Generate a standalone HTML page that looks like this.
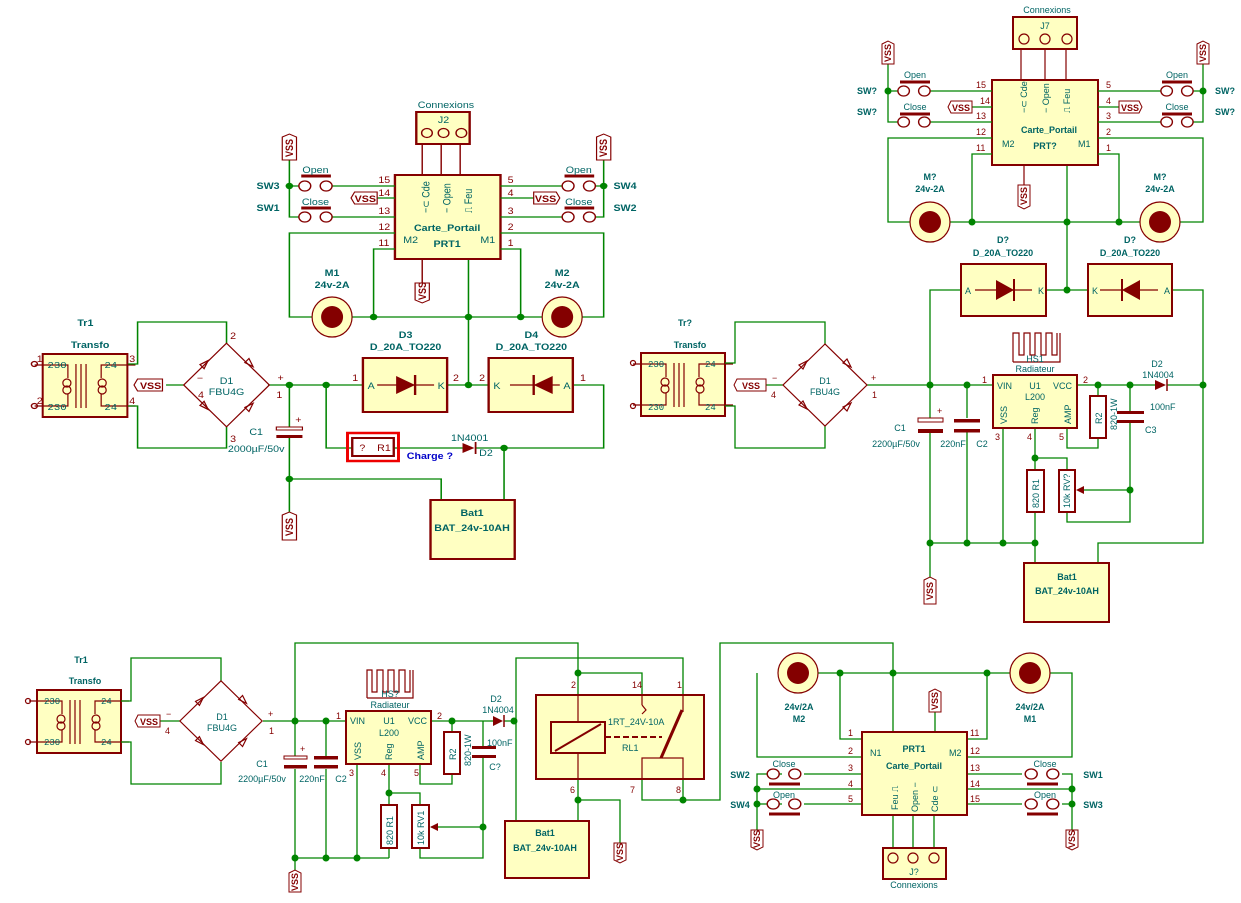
<!DOCTYPE html>
<html><head><meta charset="utf-8"><style>
html,body{margin:0;padding:0;background:#fff}
svg{display:block}
.w{stroke:#008400;stroke-width:1.3;fill:none}
.p{stroke:#840000;stroke-width:1.2;fill:none}
.b{stroke:#840000;stroke-width:2;fill:#ffffc2}
.j{fill:#008400}
text{font-family:"Liberation Sans",sans-serif;fill:#006464;font-size:9px}
.bd{font-weight:bold}
.r{fill:#840000}
.m{font-family:"Liberation Mono",monospace}
</style></head><body>
<svg width="1241" height="903" viewBox="0 0 1241 903" xmlns="http://www.w3.org/2000/svg">
<defs>
<g id="mot"><circle r="20" fill="#ffffc2" stroke="#840000" stroke-width="1.2"/><circle r="11" fill="#840000"/></g>
<g id="sw"><circle cx="-9" r="5" fill="#fff" stroke="#840000" stroke-width="1.2"/><circle cx="9" r="5" fill="#fff" stroke="#840000" stroke-width="1.2"/></g>
<g id="br"><path class="p" d="M0,-41 L-42,0 L0,41 L42,0 Z"/>
<path class="p" d="M-26,-20 l8,-4 l-4,8 z M18,-22 l8,4 l-4,-8 z M-26,20 l8,4 l-4,-8 z M18,22 l8,-4 l-4,8 z"/></g>
<g id="tr"><rect x="0" y="0" width="84" height="63" class="b"/>
<path class="p" d="M33,10 V54 M38,10 V54 M43,10 V54 M-8,11 H25 V24 M-8,52 H25 V40 M92,11 H58 V24 M92,52 H58 V40"/>
<circle cx="24" cy="29" r="4" class="p"/><circle cx="24" cy="36" r="4" class="p"/><circle cx="59" cy="29" r="4" class="p"/><circle cx="59" cy="36" r="4" class="p"/></g>
</defs>

<!-- ================= TOP LEFT ================= -->
<g transform="scale(1.186,1)">
<use href="#tr" transform="translate(36,354) scale(0.85,1)"/>
<circle cx="29" cy="364" r="2.5" class="p"/><circle cx="29" cy="406" r="2.5" class="p"/>
<text x="40" y="368" class="m">230</text><text x="40" y="410" class="m">230</text><text x="88" y="368" class="m">24</text><text x="88" y="410" class="m">24</text>
<text x="31" y="362" class="r">1</text><text x="31" y="404" class="r">2</text><text x="109" y="362" class="r">3</text><text x="109" y="404" class="r">4</text>
<text x="72" y="326" class="bd" text-anchor="middle">Tr1</text><text x="76" y="348" class="bd" text-anchor="middle">Transfo</text>
<path class="w" d="M108,364 H116 V322 H191 V343 M108,406 H116 V448 H191 V427 M140,385 H155 M226,385 H306 M377,385 H412 M483,385 H509 V448 H401 M275,385 V448 H297 M244,385 V428 M244,438 V515 M244,479 H372 V500 M425,448 V500 M395,259 V385 M332,448 H390"/>
<use href="#br" transform="translate(191,385) scale(0.86,1.02)"/>
<text x="191" y="384" text-anchor="middle">D1</text><text x="191" y="395" text-anchor="middle" font-size="8">FBU4G</text>
<text x="234" y="381" class="r" font-size="14">+</text><text x="233" y="398" class="r" font-size="13">1</text>
<text x="166" y="381" class="r" font-size="12">−</text><text x="167" y="398" class="r" font-size="13">4</text>
<text x="194" y="339" class="r" font-size="11">2</text><text x="194" y="442" class="r" font-size="11">3</text>
<path d="M116,379 H137 V391 H116 l-3,-6 z" fill="#fff" stroke="#840000"/><text x="118" y="389" class="r bd" font-size="8">VSS</text>
<circle cx="244" cy="385" r="3.2" class="j"/><circle cx="275" cy="385" r="3.2" class="j"/><circle cx="395" cy="385" r="3.2" class="j"/><circle cx="425" cy="448" r="3.2" class="j"/><circle cx="244" cy="479" r="3.2" class="j"/>
<rect x="233" y="427" width="22" height="3" fill="#fff" stroke="#840000"/><rect x="233" y="435" width="22" height="3" class="r"/><text x="249" y="423" class="r">+</text>
<text x="216" y="435" text-anchor="middle">C1</text><text x="216" y="452" text-anchor="middle">2000µF/50v</text>
<rect x="306" y="358" width="71" height="54" class="b"/><rect x="412" y="358" width="71" height="54" class="b"/>
<path class="p" d="M318,385 H366 M430,385 H472"/><path d="M334,376 L334,394 L350,385 Z M466,376 L466,394 L450,385 Z" class="r"/><path d="M350,375 V395 M450,375 V395" stroke="#840000" stroke-width="2"/>
<text x="310" y="389" font-size="8">A</text><text x="369" y="389" font-size="8">K</text><text x="416" y="389" font-size="8">K</text><text x="475" y="389" font-size="8">A</text>
<text x="297" y="381" class="r">1</text><text x="382" y="381" class="r">2</text><text x="404" y="381" class="r">2</text><text x="489" y="381" class="r">1</text>
<text x="342" y="338" class="bd" text-anchor="middle">D3</text><text x="342" y="350" class="bd" text-anchor="middle">D_20A_TO220</text>
<text x="448" y="338" class="bd" text-anchor="middle">D4</text><text x="448" y="350" class="bd" text-anchor="middle">D_20A_TO220</text>
<rect x="293" y="433" width="43" height="28" fill="none" stroke="#e00" stroke-width="2.5"/>
<rect x="297" y="438" width="35" height="18" fill="#fff" stroke="#840000" stroke-width="2"/><text x="303" y="451" class="r">?</text><text x="318" y="451" class="r">R1</text>
<text x="343" y="459" class="bd" style="fill:#0000c8">Charge ?</text>
<path d="M390,443 V453 L400,448 Z" class="r"/><path d="M401,442 V454" stroke="#840000" stroke-width="1.5"/>
<text x="396" y="441" text-anchor="middle">1N4001</text><text x="404" y="456">D2</text>
<rect x="363" y="500" width="71" height="59" class="b"/>
<text x="398" y="516" class="bd" text-anchor="middle">Bat1</text><text x="398" y="531" class="bd" text-anchor="middle" font-size="8">BAT_24v-10AH</text>
<path d="M238,515 l6,-3 l6,3 V540 H238 Z" fill="#fff" stroke="#840000"/><text transform="translate(247,536) rotate(-90)" class="r bd" font-size="8">VSS</text>
<!-- PRT1 -->
<rect x="333" y="175" width="89" height="84" class="b"/>
<rect x="351" y="112" width="45" height="32" class="b"/>
<circle cx="360" cy="133" r="4.5" class="p"/><circle cx="374" cy="133" r="4.5" class="p"/><circle cx="389" cy="133" r="4.5" class="p"/>
<text x="376" y="108" text-anchor="middle" font-size="8">Connexions</text><text x="374" y="123" text-anchor="middle" font-size="8">J2</text>
<path class="p" d="M356,144 V175 M372,144 V175 M388,144 V175"/>
<text x="377" y="231" class="bd" text-anchor="middle">Carte_Portail</text><text x="377" y="247" class="bd" text-anchor="middle">PRT1</text>
<text x="340" y="243" font-size="8">M2</text><text x="405" y="243" font-size="8">M1</text>
<text transform="translate(362,213) rotate(-90)" font-size="8">−⊂ Cde</text>
<text transform="translate(380,213) rotate(-90)" font-size="8">− Open</text>
<text transform="translate(398,213) rotate(-90)" font-size="8">⎍ Feu</text>
<path class="w" d="M333,186 H280 M252,186 H244 M244,160 V217 H252 M333,217 H280 M318,198 H333 M333,233 H244 V317 H263 M297,317 H457 M333,249 H315 V317 M422,249 H439 V317 M422,233 H509 V317 H491 M422,186 H474 M502,186 H509 M509,160 V217 H502 M422,217 H474 M422,198 H450"/>
<use href="#sw" transform="translate(266,186)"/><use href="#sw" transform="translate(266,217)"/><use href="#sw" transform="translate(488,186)"/><use href="#sw" transform="translate(488,217)"/>
<path d="M254,176 H279 M254,208 H279 M476,176 H501 M476,208 H501" stroke="#840000" stroke-width="3"/>
<text x="266" y="173" text-anchor="middle" font-size="8">Open</text><text x="266" y="205" text-anchor="middle" font-size="8">Close</text>
<text x="488" y="173" text-anchor="middle" font-size="8">Open</text><text x="488" y="205" text-anchor="middle" font-size="8">Close</text>
<text x="226" y="189" class="bd" text-anchor="middle">SW3</text><text x="226" y="211" class="bd" text-anchor="middle">SW1</text>
<text x="527" y="189" class="bd" text-anchor="middle">SW4</text><text x="527" y="211" class="bd" text-anchor="middle">SW2</text>
<circle cx="244" cy="186" r="3.2" class="j"/><circle cx="509" cy="186" r="3.2" class="j"/>
<circle cx="315" cy="317" r="3.2" class="j"/><circle cx="395" cy="317" r="3.2" class="j"/><circle cx="439" cy="317" r="3.2" class="j"/>
<text x="319" y="183" class="r" font-size="8">15</text><text x="319" y="196" class="r" font-size="8">14</text><text x="319" y="214" class="r" font-size="8">13</text><text x="319" y="230" class="r" font-size="8">12</text><text x="319" y="246" class="r" font-size="8">11</text>
<text x="428" y="183" class="r" font-size="8">5</text><text x="428" y="196" class="r" font-size="8">4</text><text x="428" y="214" class="r" font-size="8">3</text><text x="428" y="230" class="r" font-size="8">2</text><text x="428" y="246" class="r" font-size="8">1</text>
<path d="M296,198 l3,-6 H318 V204 H299 Z" fill="#fff" stroke="#840000"/><text x="299" y="202" class="r bd" font-size="8">VSS</text>
<path d="M450,192 H469 l3,6 l-3,6 H450 Z" fill="#fff" stroke="#840000"/><text x="451" y="202" class="r bd" font-size="8">VSS</text>
<path d="M238,137 l6,-3 l6,3 V160 H238 Z" fill="#fff" stroke="#840000"/><text transform="translate(247,157) rotate(-90)" class="r bd" font-size="8">VSS</text>
<path d="M503,137 l6,-3 l6,3 V160 H503 Z" fill="#fff" stroke="#840000"/><text transform="translate(512,157) rotate(-90)" class="r bd" font-size="8">VSS</text>
<path class="p" d="M356,259 V283"/><path d="M350,283 H362 V300 l-6,3 l-6,-3 Z" fill="#fff" stroke="#840000"/><text transform="translate(359,300) rotate(-90)" class="r bd" font-size="8">VSS</text>
<use href="#mot" transform="translate(280,317) scale(0.843,1)"/><use href="#mot" transform="translate(474,317) scale(0.843,1)"/>
<text x="280" y="276" class="bd" text-anchor="middle">M1</text><text x="280" y="288" class="bd" text-anchor="middle">24v-2A</text>
<text x="474" y="276" class="bd" text-anchor="middle">M2</text><text x="474" y="288" class="bd" text-anchor="middle">24v-2A</text>
</g>

<!-- ================= TOP RIGHT ================= -->
<g>
<use href="#tr" transform="translate(641,353)"/>
<circle cx="633" cy="363" r="2.5" class="p"/><circle cx="633" cy="406" r="2.5" class="p"/>
<text x="648" y="367" class="m">230</text><text x="648" y="410" class="m">230</text><text x="705" y="367" class="m">24</text><text x="705" y="410" class="m">24</text>
<text x="685" y="326" class="bd" text-anchor="middle">Tr?</text><text x="690" y="348" class="bd" text-anchor="middle">Transfo</text>
<path class="w" d="M725,363 H735 V322 H825 V345 M725,406 H735 V448 H825 V426 M766,385 H783 M867,385 H993 M1077,385 H1155 M1167,385 H1203 M930,385 V418 M930,432 V580 M967,385 V418 M967,432 V543 M930,543 H1035 M1003,428 V543 M1035,428 V470 M1035,512 V563 M1035,458 H1067 V470 M1067,512 V522 H1130 V421 M1130,412 V385 M1082,490 H1130 M1067,428 V448 H1098 V438 M1098,396 V385 M1098,563 V543 H1203 V290 H1172 M930,385 V290 H961 M1046,290 H1088 M1067,165 V290"/>
<use href="#br" transform="translate(825,385)"/>
<text x="825" y="384" text-anchor="middle">D1</text><text x="825" y="395" text-anchor="middle" font-size="8">FBU4G</text>
<text x="871" y="381" class="r" font-size="14">+</text><text x="872" y="398" class="r" font-size="13">1</text>
<text x="772" y="381" class="r" font-size="12">−</text><text x="771" y="398" class="r" font-size="13">4</text>
<path d="M737,379 H766 V391 H737 l-3,-6 z" fill="#fff" stroke="#840000"/><text x="742" y="389" class="r bd" font-size="8">VSS</text>
<circle cx="930" cy="385" r="3.5" class="j"/><circle cx="967" cy="385" r="3.5" class="j"/><circle cx="1098" cy="385" r="3.5" class="j"/><circle cx="1130" cy="385" r="3.5" class="j"/><circle cx="1203" cy="385" r="3.5" class="j"/>
<circle cx="930" cy="543" r="3.5" class="j"/><circle cx="967" cy="543" r="3.5" class="j"/><circle cx="1003" cy="543" r="3.5" class="j"/><circle cx="1035" cy="543" r="3.5" class="j"/>
<circle cx="1035" cy="458" r="3.5" class="j"/><circle cx="1130" cy="490" r="3.5" class="j"/><circle cx="1067" cy="290" r="3.5" class="j"/>
<rect x="918" y="418" width="25" height="4" fill="#fff" stroke="#840000"/><rect x="918" y="429" width="25" height="4" class="r"/><text x="937" y="414" class="r">+</text>
<rect x="954" y="419" width="26" height="3.5" class="r"/><rect x="954" y="429" width="26" height="3.5" class="r"/>
<rect x="1117" y="411" width="27" height="3" class="r"/><rect x="1117" y="420" width="27" height="3" class="r"/>
<text x="900" y="431" text-anchor="middle">C1</text><text x="896" y="447" text-anchor="middle">2200µF/50v</text><text x="953" y="447" text-anchor="middle">220nF</text><text x="982" y="447" text-anchor="middle">C2</text>
<rect x="993" y="375" width="84" height="53" class="b"/>
<text x="997" y="389">VIN</text><text x="1035" y="389" text-anchor="middle">U1</text><text x="1072" y="389" text-anchor="end">VCC</text><text x="1035" y="400" text-anchor="middle">L200</text>
<text transform="translate(1007,424) rotate(-90)">VSS</text><text transform="translate(1038,424) rotate(-90)">Reg</text><text transform="translate(1071,424) rotate(-90)">AMP</text>
<text x="982" y="383" class="r">1</text><text x="1083" y="383" class="r">2</text><text x="995" y="440" class="r">3</text><text x="1027" y="440" class="r">4</text><text x="1059" y="440" class="r">5</text>
<rect x="1090" y="396" width="16" height="42" fill="#fff" stroke="#840000" stroke-width="2"/><text transform="translate(1102,424) rotate(-90)">R2</text>
<text transform="translate(1117,430) rotate(-90)" font-size="8">820-1W</text><text x="1150" y="410">100nF</text><text x="1145" y="433">C3</text>
<path d="M1155,380 V390 L1166,385 Z" class="r"/><path d="M1167,379 V391" stroke="#840000" stroke-width="1.5"/>
<text x="1157" y="367" text-anchor="middle">D2</text><text x="1158" y="378" text-anchor="middle">1N4004</text>
<rect x="1027" y="470" width="17" height="42" fill="#fff" stroke="#840000" stroke-width="2"/><text transform="translate(1039,508) rotate(-90)" font-size="8">820 R1</text>
<rect x="1059" y="470" width="16" height="42" fill="#fff" stroke="#840000" stroke-width="2"/><text transform="translate(1070,508) rotate(-90)" font-size="8">10k RV?</text>
<path d="M1076,490 L1084,486 L1084,494 Z" class="r"/>
<path class="p" d="M1013,362 V333 H1019 V355 H1024 V333 H1030 V355 H1035 V333 H1041 V355 H1046 V333 H1052 V355 H1057 V333 M1013,362 H1060 V333" stroke-width="2"/>
<text x="1035" y="362" text-anchor="middle" font-size="8">HS1</text><text x="1035" y="372" text-anchor="middle" font-size="8">Radiateur</text>
<rect x="1024" y="563" width="85" height="59" class="b"/>
<text x="1067" y="580" class="bd" text-anchor="middle">Bat1</text><text x="1067" y="594" class="bd" text-anchor="middle" font-size="8">BAT_24v-10AH</text>
<path d="M924,580 l6,-3 l6,3 V604 H924 Z" fill="#fff" stroke="#840000"/><text transform="translate(933,600) rotate(-90)" class="r bd" font-size="8">VSS</text>
<rect x="961" y="264" width="85" height="52" class="b"/><rect x="1088" y="264" width="84" height="52" class="b"/>
<path class="p" d="M975,290 H1032 M1100,290 H1158"/><path d="M996,280 V300 L1014,290 Z M1140,280 V300 L1122,290 Z" class="r"/><path d="M1014,279 V301 M1122,279 V301" stroke="#840000" stroke-width="2"/>
<text x="965" y="294" font-size="8">A</text><text x="1038" y="294" font-size="8">K</text><text x="1092" y="294" font-size="8">K</text><text x="1164" y="294" font-size="8">A</text>
<text x="1003" y="243" class="bd" text-anchor="middle">D?</text><text x="1003" y="256" class="bd" text-anchor="middle">D_20A_TO220</text>
<text x="1130" y="243" class="bd" text-anchor="middle">D?</text><text x="1130" y="256" class="bd" text-anchor="middle">D_20A_TO220</text>
<!-- PRT? -->
<rect x="992" y="80" width="106" height="85" class="b"/>
<rect x="1013" y="17" width="64" height="32" class="b"/>
<circle cx="1024" cy="39" r="5" class="p"/><circle cx="1045" cy="39" r="5" class="p"/><circle cx="1067" cy="39" r="5" class="p"/>
<text x="1047" y="13" text-anchor="middle" font-size="8">Connexions</text><text x="1045" y="29" text-anchor="middle" font-size="8">J7</text>
<path class="p" d="M1021,49 V80 M1045,49 V80 M1066,49 V80"/>
<text transform="translate(1027,113) rotate(-90)" font-size="8">−⊂ Cde</text>
<text transform="translate(1049,113) rotate(-90)" font-size="8">− Open</text>
<text transform="translate(1070,113) rotate(-90)" font-size="8">⎍ Feu</text>
<text x="1049" y="133" class="bd" text-anchor="middle">Carte_Portail</text><text x="1045" y="149" class="bd" text-anchor="middle">PRT?</text>
<text x="1002" y="147" font-size="8">M2</text><text x="1078" y="147" font-size="8">M1</text>
<path class="w" d="M992,91 H930 M899,91 H888 M888,64 V122 H899 M992,122 H930 M972,107 H992 M992,138 H888 V222 H910 M950,222 H1140 M992,154 H972 V222 M1098,154 H1119 V222 M1098,138 H1203 V222 H1180 M1098,91 H1161 M1193,91 H1203 M1203,64 V122 H1193 M1098,122 H1161 M1098,107 H1119"/>
<use href="#sw" transform="translate(914,91) scale(1.15,1)"/><use href="#sw" transform="translate(914,122) scale(1.15,1)"/><use href="#sw" transform="translate(1177,91) scale(1.15,1)"/><use href="#sw" transform="translate(1177,122) scale(1.15,1)"/>
<path d="M900,82 H930 M900,114 H930 M1162,82 H1192 M1162,114 H1192" stroke="#840000" stroke-width="3"/>
<text x="915" y="78" text-anchor="middle" font-size="8">Open</text><text x="915" y="110" text-anchor="middle" font-size="8">Close</text>
<text x="1177" y="78" text-anchor="middle" font-size="8">Open</text><text x="1177" y="110" text-anchor="middle" font-size="8">Close</text>
<text x="867" y="94" class="bd" text-anchor="middle">SW?</text><text x="867" y="115" class="bd" text-anchor="middle">SW?</text>
<text x="1225" y="94" class="bd" text-anchor="middle">SW?</text><text x="1225" y="115" class="bd" text-anchor="middle">SW?</text>
<circle cx="888" cy="91" r="3.5" class="j"/><circle cx="1203" cy="91" r="3.5" class="j"/>
<circle cx="972" cy="222" r="3.5" class="j"/><circle cx="1067" cy="222" r="3.5" class="j"/><circle cx="1119" cy="222" r="3.5" class="j"/>
<text x="976" y="88" class="r" font-size="8">15</text><text x="980" y="104" class="r" font-size="8">14</text><text x="976" y="119" class="r" font-size="8">13</text><text x="976" y="135" class="r" font-size="8">12</text><text x="976" y="151" class="r" font-size="8">11</text>
<text x="1106" y="88" class="r" font-size="8">5</text><text x="1106" y="104" class="r" font-size="8">4</text><text x="1106" y="119" class="r" font-size="8">3</text><text x="1106" y="135" class="r" font-size="8">2</text><text x="1106" y="151" class="r" font-size="8">1</text>
<path d="M948,107 l3,-6 H972 V113 H951 Z" fill="#fff" stroke="#840000"/><text x="952" y="111" class="r bd" font-size="8">VSS</text>
<path d="M1119,101 H1139 l3,6 l-3,6 H1119 Z" fill="#fff" stroke="#840000"/><text x="1121" y="111" class="r bd" font-size="8">VSS</text>
<path d="M882,44 l6,-3 l6,3 V64 H882 Z" fill="#fff" stroke="#840000"/><text transform="translate(891,62) rotate(-90)" class="r bd" font-size="8">VSS</text>
<path d="M1197,44 l6,-3 l6,3 V64 H1197 Z" fill="#fff" stroke="#840000"/><text transform="translate(1206,62) rotate(-90)" class="r bd" font-size="8">VSS</text>
<path class="p" d="M1024,165 V185"/><path d="M1018,185 H1030 V206 l-6,3 l-6,-3 Z" fill="#fff" stroke="#840000"/><text transform="translate(1027,205) rotate(-90)" class="r bd" font-size="8">VSS</text>
<use href="#mot" transform="translate(930,222)"/><use href="#mot" transform="translate(1160,222)"/>
<text x="930" y="180" class="bd" text-anchor="middle">M?</text><text x="930" y="192" class="bd" text-anchor="middle">24v-2A</text>
<text x="1160" y="180" class="bd" text-anchor="middle">M?</text><text x="1160" y="192" class="bd" text-anchor="middle">24v-2A</text>
</g>

<!-- ================= BOTTOM ================= -->
<g>
<use href="#tr" transform="translate(37,690)"/>
<circle cx="28" cy="701" r="2.5" class="p"/><circle cx="28" cy="742" r="2.5" class="p"/>
<text x="44" y="704" class="m">230</text><text x="44" y="745" class="m">230</text><text x="101" y="704" class="m">24</text><text x="101" y="745" class="m">24</text>
<text x="81" y="663" class="bd" text-anchor="middle">Tr1</text><text x="85" y="684" class="bd" text-anchor="middle">Transfo</text>
<path class="w" d="M121,701 H131 V658 H221 V681 M121,742 H131 V784 H221 V762 M160,721 H180 M263,721 H346 M431,721 H493 M504,721 H516 M295,721 V643 H578 V695 M578,673 H642 V695 M516,721 V658 H683 V695 M578,779 V821 M578,800 H620 V843 M642,779 V800 H720 V643 H893 V732 M683,779 V800 M516,721 V821 M295,721 V757 M295,769 V873 M326,721 V757 M326,769 V858 M295,858 H389 M357,764 V858 M389,764 V805 M389,848 V858 M389,793 H420 V805 M420,848 V858 H483 V757 M483,748 V721 M431,827 H483 M420,764 V784 H452 V774 M452,732 V721 M840,673 H779 M819,673 H1010 M1050,673 H1072 V757 H967 M840,673 V739 H862 M757,673 V757 H862 M987,673 V739 H967 M862,774 H804 M862,789 H757 M862,804 H804 M782,774 H757 V830 M782,804 H757 M967,774 H1022 M967,789 H1072 M967,804 H1022 M1062,774 H1072 V830 M1062,804 H1072 M935,732 V712 M893,815 V848 M913,815 V848 M934,815 V848"/>
<use href="#br" transform="translate(221,721) scale(0.98,0.98)"/>
<text x="222" y="720" text-anchor="middle">D1</text><text x="222" y="731" text-anchor="middle" font-size="8">FBU4G</text>
<text x="268" y="717" class="r" font-size="14">+</text><text x="269" y="734" class="r" font-size="13">1</text>
<text x="166" y="717" class="r" font-size="12">−</text><text x="165" y="734" class="r" font-size="13">4</text>
<path d="M138,715 H160 V727 H138 l-3,-6 z" fill="#fff" stroke="#840000"/><text x="140" y="725" class="r bd" font-size="8">VSS</text>
<circle cx="295" cy="721" r="3.5" class="j"/><circle cx="326" cy="721" r="3.5" class="j"/><circle cx="452" cy="721" r="3.5" class="j"/><circle cx="514" cy="721" r="3.5" class="j"/>
<circle cx="295" cy="858" r="3.5" class="j"/><circle cx="326" cy="858" r="3.5" class="j"/><circle cx="357" cy="858" r="3.5" class="j"/><circle cx="389" cy="793" r="3.5" class="j"/><circle cx="483" cy="827" r="3.5" class="j"/>
<rect x="284" y="756" width="23" height="3" fill="#fff" stroke="#840000"/><rect x="284" y="765" width="23" height="3.5" class="r"/><text x="300" y="752" class="r">+</text>
<rect x="314" y="756" width="24" height="3.5" class="r"/><rect x="314" y="765" width="24" height="3.5" class="r"/>
<rect x="472" y="746" width="24" height="3" class="r"/><rect x="472" y="755" width="24" height="3" class="r"/>
<text x="262" y="767" text-anchor="middle">C1</text><text x="262" y="782" text-anchor="middle">2200µF/50v</text><text x="312" y="782" text-anchor="middle">220nF</text><text x="341" y="782" text-anchor="middle">C2</text>
<rect x="346" y="711" width="85" height="53" class="b"/>
<text x="350" y="724">VIN</text><text x="389" y="724" text-anchor="middle">U1</text><text x="427" y="724" text-anchor="end">VCC</text><text x="389" y="736" text-anchor="middle">L200</text>
<text transform="translate(361,760) rotate(-90)">VSS</text><text transform="translate(392,760) rotate(-90)">Reg</text><text transform="translate(424,760) rotate(-90)">AMP</text>
<text x="336" y="719" class="r">1</text><text x="437" y="719" class="r">2</text><text x="349" y="776" class="r">3</text><text x="381" y="776" class="r">4</text><text x="414" y="776" class="r">5</text>
<rect x="444" y="732" width="16" height="42" fill="#fff" stroke="#840000" stroke-width="2"/><text transform="translate(456,760) rotate(-90)">R2</text>
<text transform="translate(471,766) rotate(-90)" font-size="8">820-1W</text><text x="487" y="746">100nF</text><text x="495" y="770" text-anchor="middle">C?</text>
<path d="M493,716 V726 L503,721 Z" class="r"/><path d="M504,715 V727" stroke="#840000" stroke-width="1.5"/>
<text x="496" y="702" text-anchor="middle">D2</text><text x="498" y="713" text-anchor="middle">1N4004</text>
<rect x="381" y="805" width="16" height="43" fill="#fff" stroke="#840000" stroke-width="2"/><text transform="translate(393,845) rotate(-90)" font-size="8">820 R1</text>
<rect x="412" y="805" width="17" height="43" fill="#fff" stroke="#840000" stroke-width="2"/><text transform="translate(424,845) rotate(-90)" font-size="8">10k RV1</text>
<path d="M430,827 L438,823 L438,831 Z" class="r"/>
<path class="p" d="M367,698 V670 H372 V692 H377 V670 H383 V692 H388 V670 H394 V692 H399 V670 H405 V692 H410 V670 M367,698 H413 V670" stroke-width="2"/>
<text x="390" y="697" text-anchor="middle" font-size="8">HS?</text><text x="390" y="708" text-anchor="middle" font-size="8">Radiateur</text>
<path d="M289,873 l6,-3 l6,3 V892 H289 Z" fill="#fff" stroke="#840000"/><text transform="translate(298,891) rotate(-90)" class="r bd" font-size="8">VSS</text>
<!-- relay -->
<rect x="536" y="695" width="168" height="84" class="b"/>
<rect x="551" y="722" width="54" height="31" fill="none" stroke="#840000" stroke-width="2"/><path d="M555,751 L601,724" stroke="#840000" stroke-width="2"/>
<path d="M605,737 H662" stroke="#840000" stroke-width="2" stroke-dasharray="6,3"/>
<rect x="642" y="758" width="41" height="21" fill="none" stroke="#840000" stroke-width="1.2"/>
<path d="M661,758 L682,710" stroke="#840000" stroke-width="3"/><path d="M642,705 L646,710 L642,714" class="p"/>
<path class="p" d="M578,695 V722 M578,753 V779 M642,695 V705 M683,695 V712"/>
<text x="608" y="725">1RT_24V-10A</text><text x="622" y="751">RL1</text>
<text x="571" y="688" class="r" font-size="11">2</text><text x="632" y="688" class="r" font-size="11">14</text><text x="677" y="688" class="r" font-size="11">1</text>
<text x="570" y="793" class="r" font-size="11">6</text><text x="630" y="793" class="r" font-size="11">7</text><text x="676" y="793" class="r" font-size="11">8</text>
<circle cx="578" cy="673" r="3.5" class="j"/><circle cx="578" cy="800" r="3.5" class="j"/><circle cx="683" cy="800" r="3.5" class="j"/>
<rect x="505" y="821" width="84" height="57" class="b"/>
<text x="545" y="836" class="bd" text-anchor="middle">Bat1</text><text x="545" y="851" class="bd" text-anchor="middle" font-size="8">BAT_24v-10AH</text>
<path d="M614,843 H626 V860 l-6,3 l-6,-3 Z" fill="#fff" stroke="#840000"/><text transform="translate(623,861) rotate(-90)" class="r bd" font-size="8">VSS</text>
<!-- PRT1 bottom -->
<use href="#mot" transform="translate(798,673)"/><use href="#mot" transform="translate(1030,673)"/>
<text x="799" y="710" class="bd" text-anchor="middle">24v/2A</text><text x="799" y="722" class="bd" text-anchor="middle">M2</text>
<text x="1030" y="710" class="bd" text-anchor="middle">24v/2A</text><text x="1030" y="722" class="bd" text-anchor="middle">M1</text>
<circle cx="840" cy="673" r="3.5" class="j"/><circle cx="893" cy="673" r="3.5" class="j"/><circle cx="987" cy="673" r="3.5" class="j"/>
<rect x="862" y="732" width="105" height="83" class="b"/>
<text x="914" y="752" class="bd" text-anchor="middle">PRT1</text><text x="914" y="769" class="bd" text-anchor="middle">Carte_Portail</text>
<text x="870" y="756" font-size="8">N1</text><text x="949" y="756" font-size="8">M2</text>
<text transform="translate(898,810) rotate(-90)" font-size="8">Feu ⎍</text><text transform="translate(918,812) rotate(-90)" font-size="8">Open −</text><text transform="translate(938,812) rotate(-90)" font-size="8">Cde ⊂</text>
<use href="#sw" transform="translate(784,774) scale(1.2,1)"/><use href="#sw" transform="translate(784,804) scale(1.2,1)"/><use href="#sw" transform="translate(1042,774) scale(1.2,1)"/><use href="#sw" transform="translate(1042,804) scale(1.2,1)"/>
<path d="M769,784 H800 M769,814 H800 M1027,784 H1058 M1027,814 H1058" stroke="#840000" stroke-width="3"/>
<text x="784" y="767" text-anchor="middle" font-size="8">Close</text><text x="784" y="798" text-anchor="middle" font-size="8">Open</text>
<text x="1045" y="767" text-anchor="middle" font-size="8">Close</text><text x="1045" y="798" text-anchor="middle" font-size="8">Open</text>
<text x="740" y="778" class="bd" text-anchor="middle">SW2</text><text x="740" y="808" class="bd" text-anchor="middle">SW4</text>
<text x="1093" y="778" class="bd" text-anchor="middle">SW1</text><text x="1093" y="808" class="bd" text-anchor="middle">SW3</text>
<circle cx="757" cy="789" r="3.5" class="j"/><circle cx="757" cy="804" r="3.5" class="j"/><circle cx="1072" cy="789" r="3.5" class="j"/><circle cx="1072" cy="804" r="3.5" class="j"/>
<text x="848" y="736" class="r" font-size="8">1</text><text x="848" y="754" class="r" font-size="8">2</text><text x="848" y="771" class="r" font-size="8">3</text><text x="848" y="787" class="r" font-size="8">4</text><text x="848" y="802" class="r" font-size="8">5</text>
<text x="970" y="736" class="r" font-size="8">11</text><text x="970" y="754" class="r" font-size="8">12</text><text x="970" y="771" class="r" font-size="8">13</text><text x="970" y="787" class="r" font-size="8">14</text><text x="970" y="802" class="r" font-size="8">15</text>
<path d="M751,830 H763 V847 l-6,3 l-6,-3 Z" fill="#fff" stroke="#840000"/><text transform="translate(760,848) rotate(-90)" class="r bd" font-size="8">VSS</text>
<path d="M1066,830 H1078 V847 l-6,3 l-6,-3 Z" fill="#fff" stroke="#840000"/><text transform="translate(1075,848) rotate(-90)" class="r bd" font-size="8">VSS</text>
<path d="M929,692 l6,-3 l6,3 V712 H929 Z" fill="#fff" stroke="#840000"/><text transform="translate(938,710) rotate(-90)" class="r bd" font-size="8">VSS</text>
<rect x="883" y="848" width="63" height="31" class="b"/>
<circle cx="893" cy="858" r="5" class="p"/><circle cx="913" cy="858" r="5" class="p"/><circle cx="934" cy="858" r="5" class="p"/>
<text x="914" y="875" text-anchor="middle" font-size="8">J?</text><text x="914" y="888" text-anchor="middle" font-size="8">Connexions</text>
</g>
</svg>
</body></html>
